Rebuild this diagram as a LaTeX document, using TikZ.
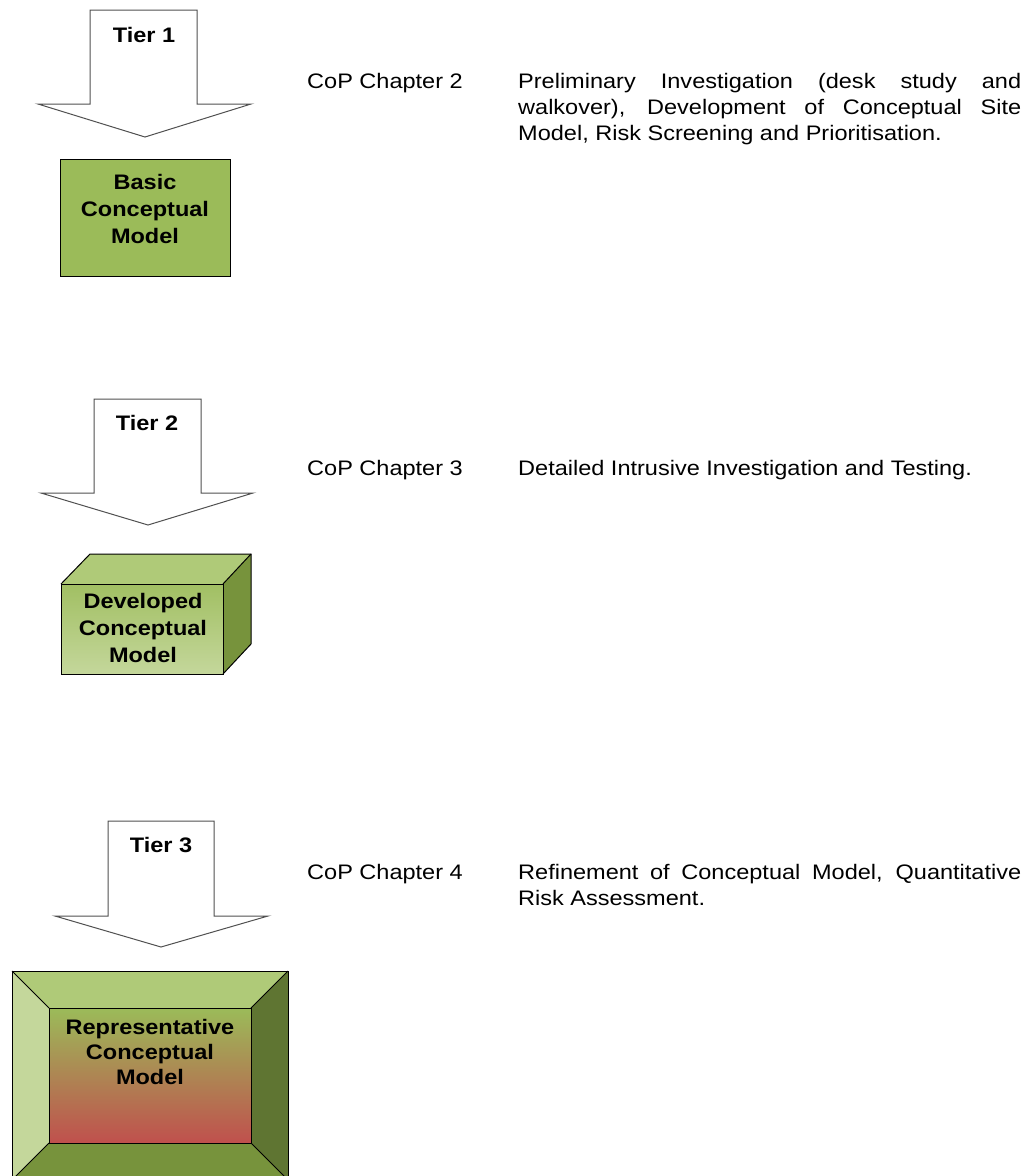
\documentclass[tikz,border=0pt]{standalone}
\usepackage{fontspec}
\setmainfont{Liberation Sans}[FakeStretch=1.12]
\definecolor{gA}{HTML}{9BBB59}
\definecolor{gTop}{HTML}{AFCA78}
\definecolor{gLight}{HTML}{C4D79B}
\definecolor{gMid}{HTML}{77933C}
\definecolor{gDark}{HTML}{5F7532}
\definecolor{rRed}{HTML}{C0504D}
\definecolor{rMid}{HTML}{B0894F}
\definecolor{arrowline}{HTML}{505050}
\begin{document}
\begin{tikzpicture}[x=1pt,y=-1pt,
  tierarrow/.style={draw=arrowline,fill=white,line width=1pt,line join=miter},
  boxline/.style={draw=black,line width=1pt},
  boxtext/.style={font=\fontsize{21}{27}\selectfont\bfseries,align=center,inner sep=0pt},
  tiertext/.style={font=\fontsize{21}{25}\selectfont\bfseries,inner sep=0pt},
  plaintext/.style={font=\fontsize{21}{26}\selectfont,inner sep=0pt,align=left}]
\useasboundingbox (0,0) rectangle (1024,1176);
\fill[white] (0,0) rectangle (1024,1176);

% ---------- Tier 1 ----------
\draw[tierarrow] (90,10) -- (197,10) -- (197,104) -- (251,104) -- (145,137) -- (38,104) -- (90,104) -- cycle;
\node[tiertext] (t1) at (144,35) {Tier 1};
\draw[boxline,fill=gA] (60,159) rectangle (230,276);
\node[boxtext] (m1) at (145,209) {Basic\\Conceptual\\Model};
\node[plaintext,anchor=base west] (c2) at (307,88) {CoP Chapter 2};
\node[plaintext,anchor=base west] (d2) at (518,140)
 {\makebox[503pt][s]{Preliminary Investigation (desk study and}\\
  \makebox[503pt][s]{walkover), Development of Conceptual Site}\\
  Model, Risk Screening and Prioritisation.};

% ---------- Tier 2 ----------
\draw[tierarrow] (94,399) -- (201,399) -- (201,493) -- (253,493) -- (148,525) -- (41,493) -- (94,493) -- cycle;
\node[tiertext] (t2) at (147,423) {Tier 2};
\shade[top color=gA!85!gLight,bottom color=gLight] (61,584) rectangle (223,674);
\fill[gTop] (61,584) -- (90,554) -- (251,554) -- (223,584) -- cycle;
\fill[gMid] (223,584) -- (251,554) -- (251,644) -- (223,674) -- cycle;
\draw[boxline,line join=miter] (61,584) rectangle (223,674);
\draw[boxline,line join=miter] (61,584) -- (90,554) -- (251,554) -- (251,644) -- (223,674);
\draw[boxline] (223,584) -- (251,554);
\node[boxtext] (m2) at (143,628) {Developed\\Conceptual\\Model};
\node[plaintext,anchor=base west] (c3) at (307,475) {CoP Chapter 3};
\node[plaintext,anchor=base west] (d3) at (518,475) {Detailed Intrusive Investigation and Testing.};

% ---------- Tier 3 ----------
\draw[tierarrow] (108,821) -- (214,821) -- (214,916) -- (268,916) -- (161,947) -- (55,916) -- (108,916) -- cycle;
\node[tiertext] (t3) at (161,845) {Tier 3};
\fill[gTop] (12,971) -- (288,971) -- (251,1008) -- (49,1008) -- cycle;
\fill[gLight] (12,971) -- (49,1008) -- (49,1143) -- (12,1180) -- cycle;
\fill[gDark] (288,971) -- (288,1180) -- (251,1143) -- (251,1008) -- cycle;
\fill[gMid] (12,1180) -- (49,1143) -- (251,1143) -- (288,1180) -- cycle;
\shade[top color=gA,middle color=rMid,bottom color=rRed] (49,1008) rectangle (251,1143);
\draw[boxline] (12,1180) -- (12,971) -- (288,971) -- (288,1180);
\draw[boxline] (49,1008) rectangle (251,1143);
\draw[boxline] (12,971) -- (49,1008);
\draw[boxline] (288,971) -- (251,1008);
\draw[boxline] (12,1180) -- (49,1143);
\draw[boxline] (288,1180) -- (251,1143);
\node[boxtext,font=\fontsize{21}{25}\selectfont\bfseries] (m3) at (150,1052) {Representative\\Conceptual\\Model};
\node[plaintext,anchor=base west] (c4) at (307,879) {CoP Chapter 4};
\node[plaintext,anchor=base west] (d4) at (518,905)
 {\makebox[503pt][s]{Refinement of Conceptual Model, Quantitative}\\
  Risk Assessment.};
\end{tikzpicture}
\end{document}
